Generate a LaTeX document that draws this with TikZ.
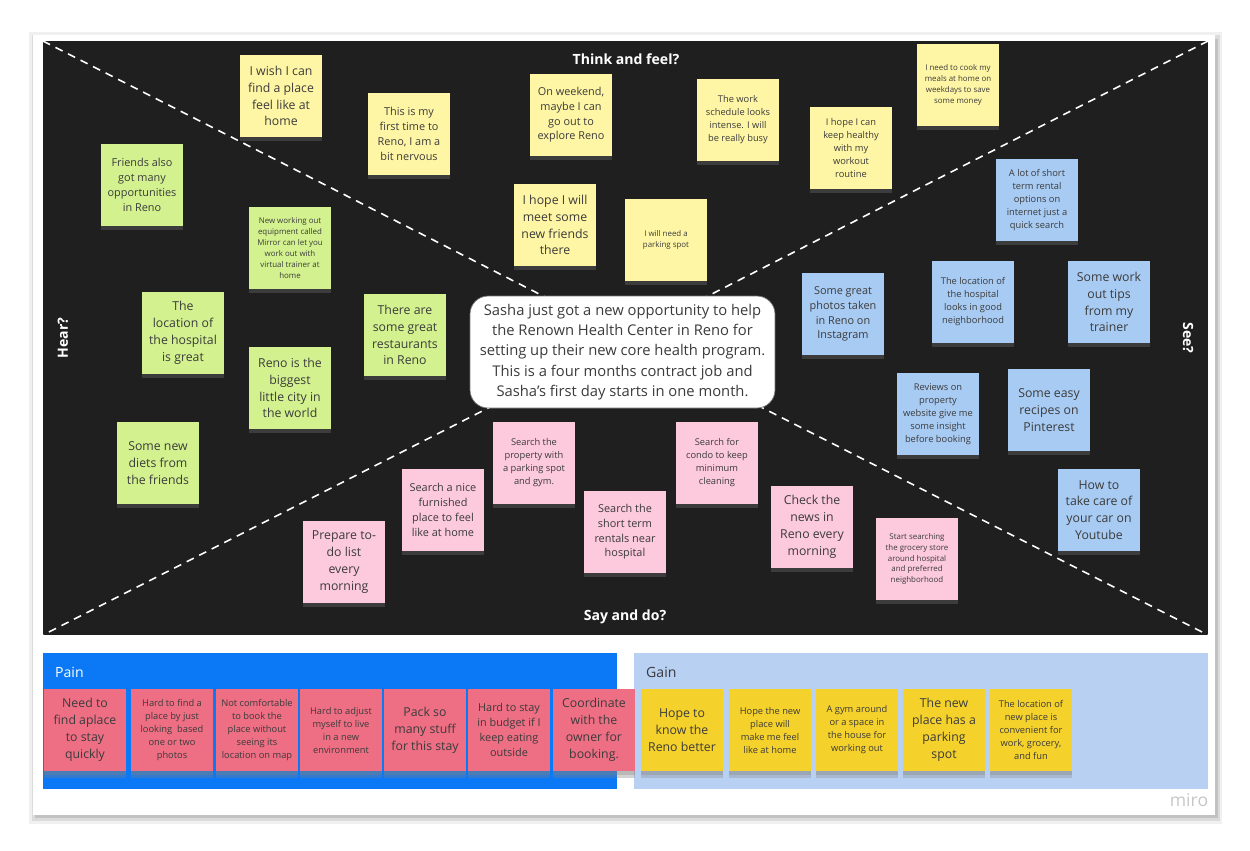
\documentclass[tikz,border=0pt]{standalone}
\usepackage{fontspec}
\setmainfont{Open Sans}
\usetikzlibrary{positioning, shadows}

\definecolor{board}{HTML}{1F1F1F}
\definecolor{notetext}{HTML}{3B3B3B}
\definecolor{thinkY}{HTML}{FFF6A5}
\definecolor{hearG}{HTML}{D3F28F}
\definecolor{seeB}{HTML}{A8CBF3}
\definecolor{sayP}{HTML}{FCC9DD}
\definecolor{painR}{HTML}{EE6E84}
\definecolor{gainO}{HTML}{F5D12B}
\definecolor{painbg}{HTML}{0B78F6}
\definecolor{gainbg}{HTML}{B8D0F2}

\begin{document}
\begin{tikzpicture}[
    x=0.02cm, y=-0.02cm,
    sticky/.style={minimum width=1.64cm, minimum height=1.64cm, inner sep=0pt, align=center, text=notetext,
        drop shadow={shadow xshift=0pt, shadow yshift=-2.5pt, opacity=0.3}},
    thinkn/.style={sticky, fill=thinkY},
    hearn/.style={sticky, fill=hearG},
    seen/.style={sticky, fill=seeB},
    sayn/.style={sticky, fill=sayP},
    painn/.style={sticky, fill=painR, drop shadow={shadow xshift=0pt, shadow yshift=-4pt, opacity=0.35}},
    gainn/.style={sticky, fill=gainO, drop shadow={shadow xshift=0pt, shadow yshift=-4pt, opacity=0.3}},
    tbig/.style={font=\fontsize{7}{9.6}\selectfont},
    tmid/.style={font=\fontsize{6.2}{8.4}\selectfont},
    tsm/.style={font=\fontsize{5.3}{7.4}\selectfont},
    ttiny/.style={font=\fontsize{4.5}{6.2}\selectfont},
    quad/.style={text=white, font=\fontsize{8}{10}\selectfont\bfseries},
    divider/.style={draw=white, line width=0.9pt, dash pattern=on 4.5pt off 3.5pt}
]
\useasboundingbox (0,0) rectangle (1250,850);
% frame and board
\fill[black!6] (29,32) rectangle (1222,824);
\fill[black!14] (32,35) rectangle (1220,821);
\fill[black!24] (35,39) rectangle (1218,818);
\fill[white] (33,35) rectangle (1215,815);
\fill[board] (43,41) rectangle (1208,635);
\coordinate (tl) at (43,41);
\coordinate (tr) at (1208,41);
\coordinate (bl) at (43,635);
\coordinate (br) at (1208,635);
\draw[divider] (tl) -- (br);
\draw[divider] (tr) -- (bl);
% quadrant titles
\node[quad] (think) at (626,59) {Think and feel?};
\node[quad] (say) at (625,617) {Say and do?};
\node[quad, rotate=90] (hear) at (63,338) {Hear?};
\node[quad, rotate=-90] (see) at (1188,338) {See?};
% think and feel
\node[thinkn, tbig] (wish) at (281,96) {I wish I can\\find a place\\feel like at\\home};
\node[thinkn, tmid] (firsttime) at (409,134) {This is my\\first time to\\Reno, I am a\\bit nervous};
\node[thinkn, tmid] (weekend) at (571,115) {On weekend,\\maybe I can\\go out to\\explore Reno};
\node[thinkn, tsm] (schedule) at (738,120) {The work\\schedule looks\\intense. I will\\be really busy};
\node[thinkn, tsm] (healthy) at (851,148) {I hope I can\\keep healthy\\with my\\workout\\routine};
\node[thinkn, ttiny] (cook) at (958,85) {I need to cook my\\meals at home on\\weekdays to save\\some money};
\node[thinkn, tbig] (meet) at (555,225) {I hope I will\\meet some\\new friends\\there};
\node[thinkn, ttiny] (parking) at (666,240) {I will need a\\parking spot};
% hear
\node[hearn, tmid] (opport) at (142,185) {Friends also\\got many\\opportunities\\in Reno};
\node[hearn, ttiny] (mirror) at (290,248) {New working out\\equipment called\\Mirror can let you\\work out with\\virtual trainer at\\home};
\node[hearn, tbig] (hospgreat) at (183,333) {The\\location of\\the hospital\\is great};
\node[hearn, tbig] (biggest) at (290,388) {Reno is the\\biggest\\little city in\\the world};
\node[hearn, tbig] (restaur) at (405,335) {There are\\some great\\restaurants\\in Reno};
\node[hearn, tbig] (diets) at (158,463) {Some new\\diets from\\the friends};
% see
\node[seen, tsm] (rental) at (1037,200) {A lot of short\\term rental\\options on\\internet just a\\quick search};
\node[seen, tmid] (photos) at (843,314) {Some great\\photos taken\\in Reno on\\Instagram};
\node[seen, tsm] (neighb) at (973,302) {The location of\\the hospital\\looks in good\\neighborhood};
\node[seen, tbig] (tips) at (1109,302) {Some work\\out tips\\from my\\trainer};
\node[seen, tsm] (reviews) at (938,414) {Reviews on\\property\\website give me\\some insight\\before booking};
\node[seen, tbig] (recipes) at (1049,410) {Some easy\\recipes on\\Pinterest};
\node[seen, tbig] (car) at (1099,510) {How to\\take care of\\your car on\\Youtube};
% say and do
\node[sayn, tbig] (todo) at (344,562) {Prepare to-\\do list\\every\\morning};
\node[sayn, tmid] (furnished) at (443,510) {Search a nice\\furnished\\place to feel\\like at home};
\node[sayn, tsm] (property) at (534,463) {Search the\\property with\\a parking spot\\and gym.};
\node[sayn, tmid] (shortterm) at (625,532) {Search the\\short term\\rentals near\\hospital};
\node[sayn, tsm] (condo) at (717,463) {Search for\\condo to keep\\minimum\\cleaning};
\node[sayn, tbig] (news) at (812,527) {Check the\\news in\\Reno every\\morning};
\node[sayn, ttiny] (grocery) at (917,559) {Start searching\\the grocery store\\around hospital\\and preferred\\neighborhood};
% persona
\node[fill=white, draw=black!55, rounded corners=0.36cm, minimum width=6.1cm, minimum height=2.24cm,
      inner sep=0pt, align=center, text=notetext, font=\fontsize{8.4}{11.5}\selectfont] (brief) at (622.5,352)
  {Sasha just got a new opportunity to help\\the Renown Health Center in Reno for\\setting up their new core health program.\\This is a four months contract job and\\Sasha’s first day starts in one month.};
% pain and gain
\fill[painbg] (43,653) rectangle (617,789);
\fill[gainbg] (634,653) rectangle (1208,789);
\node[anchor=west, text=white, font=\fontsize{8}{10}\selectfont] (painlbl) at (49,672) {Pain};
\node[anchor=west, text=notetext, font=\fontsize{8}{10}\selectfont] (gainlbl) at (640,672) {Gain};
\foreach \n/\x/\f/\t in {
    p1/85/tbig/{Need to\\find aplace\\to stay\\quickly},
    p2/172/tsm/{Hard to find a\\place by just\\looking~ based\\one or two\\photos},
    p3/257/tsm/{Not comfortable\\to book the\\place without\\seeing its\\location on map},
    p4/341/tsm/{Hard to adjust\\myself to live\\in a new\\environment},
    p5/425/tbig/{Pack so\\many stuff\\for this stay},
    p6/509/tmid/{Hard to stay\\in budget if I\\keep eating\\outside},
    p7/594/tbig/{Coordinate\\with the\\owner for\\booking.}}
  {\node[painn, \f] (\n) at (\x,730) {\t};}
\foreach \n/\x/\f/\t in {
    g1/682/tbig/{Hope to\\know the\\Reno better},
    g2/770/tsm/{Hope the new\\place will\\make me feel\\like at home},
    g3/857/tsm/{A gym around\\or a space in\\the house for\\working out},
    g4/944/tbig/{The new\\place has a\\parking\\spot},
    g5/1031/tsm/{The location of\\new place is\\convenient for\\work, grocery,\\and fun}}
  {\node[gainn, \f] (\n) at (\x,730) {\t};}
\node[text=black!22, font=\fontsize{10}{12}\selectfont] (miro) at (1189,800) {miro};
\end{tikzpicture}
\end{document}
